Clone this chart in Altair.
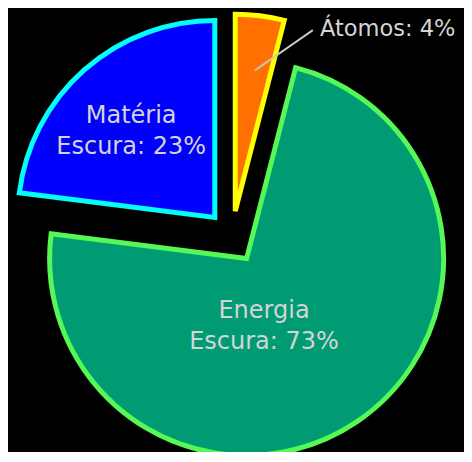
import altair as alt
import pandas as pd

# ---- data ----
categories = ["Átomos", "Energia Escura", "Matéria Escura"]
values = [4, 73, 23]
label_texts = ["Átomos: 4%", "Energia\nEscura: 73%", "Matéria\nEscura: 23%"]
fill_colors = ["#FF7000", "#009B72", "#0000FF"]
stroke_colors = ["#FFFF00", "#55F855", "#00FFFF"]

# ---- layout (pixels, degrees) ----
CX, CY = 224, 229        # pie centre
EXPLODE = 26             # slice explosion distance
R = 197                  # slice radius
label_angle = [25.8, 163.7, 318.4]   # label direction from each slice vertex
label_dist = [194.6, 62, 126]        # label distance from each slice vertex
FONT = "DejaVu Sans"
TEXT_COLOR = "#D4D4D4"

df = pd.DataFrame({
    "category": categories,
    "value": values,
    "order": list(range(len(categories))),
    "label": label_texts,
    "lab_ang": label_angle,
    "lab_r": label_dist,
})

base = (
    alt.Chart(df)
    .transform_joinaggregate(total="sum(value)")
    .transform_window(cum="sum(value)", sort=[alt.SortField("order")], frame=[None, 0])
    .transform_calculate(
        f0="(datum.cum - datum.value) / datum.total",
        f1="datum.cum / datum.total",
        mid="(datum.cum - datum.value / 2) / datum.total * 2 * PI",
        vx=f"{CX} + {EXPLODE} * sin(datum.mid)",
        vy=f"{CY} - {EXPLODE} * cos(datum.mid)",
        lx="datum.vx + datum.lab_r * sin(datum.lab_ang * PI / 180)",
        ly="datum.vy - datum.lab_r * cos(datum.lab_ang * PI / 180)",
        # leader line for the small slice
        ax="datum.vx + 142 * sin(datum.mid + 0.012)",
        ay="datum.vy - 142 * cos(datum.mid + 0.012)",
        bx="datum.vx + 197 * sin(23.2 * PI / 180)",
        by="datum.vy - 197 * cos(23.2 * PI / 180)",
    )
)

arcs = base.mark_arc(radius=R, strokeWidth=5, strokeJoin="miter").encode(
    x=alt.X("vx:Q", scale=None, axis=None),
    y=alt.Y("vy:Q", scale=None, axis=None),
    theta=alt.Theta("f0:Q", stack=False, scale=alt.Scale(domain=[0, 1], range=[0, 6.283185307179586])),
    theta2="f1:Q",
    fill=alt.Fill("category:N", scale=alt.Scale(domain=categories, range=fill_colors), legend=None),
    stroke=alt.Stroke("category:N", scale=alt.Scale(domain=categories, range=stroke_colors), legend=None),
)

leader = base.transform_filter(alt.datum.category == "Átomos").mark_rule(
    color="#C8C8C8", strokeWidth=2
).encode(
    x=alt.X("ax:Q", scale=None, axis=None),
    y=alt.Y("ay:Q", scale=None, axis=None),
    x2="bx:Q",
    y2="by:Q",
)

inner_labels = base.transform_filter(alt.datum.category != "Átomos").mark_text(
    font=FONT, fontSize=24, color=TEXT_COLOR, align="center", baseline="alphabetic",
    lineBreak="\n", lineHeight=31,
).encode(
    x=alt.X("lx:Q", scale=None, axis=None),
    y=alt.Y("ly:Q", scale=None, axis=None),
    text="label:N",
)

outer_label = base.transform_filter(alt.datum.category == "Átomos").mark_text(
    font=FONT, fontSize=22.5, color=TEXT_COLOR, align="left", baseline="alphabetic",
).encode(
    x=alt.X("lx:Q", scale=None, axis=None),
    y=alt.Y("ly:Q", scale=None, axis=None),
    text="label:N",
)

chart = (
    alt.layer(arcs, leader, inner_labels, outer_label)
    .properties(width=456, height=444, padding=0, autosize="none", background="black")
    .configure_view(stroke=None)
)

chart.save("out.html", embed_options={"renderer": "svg", "actions": False})
